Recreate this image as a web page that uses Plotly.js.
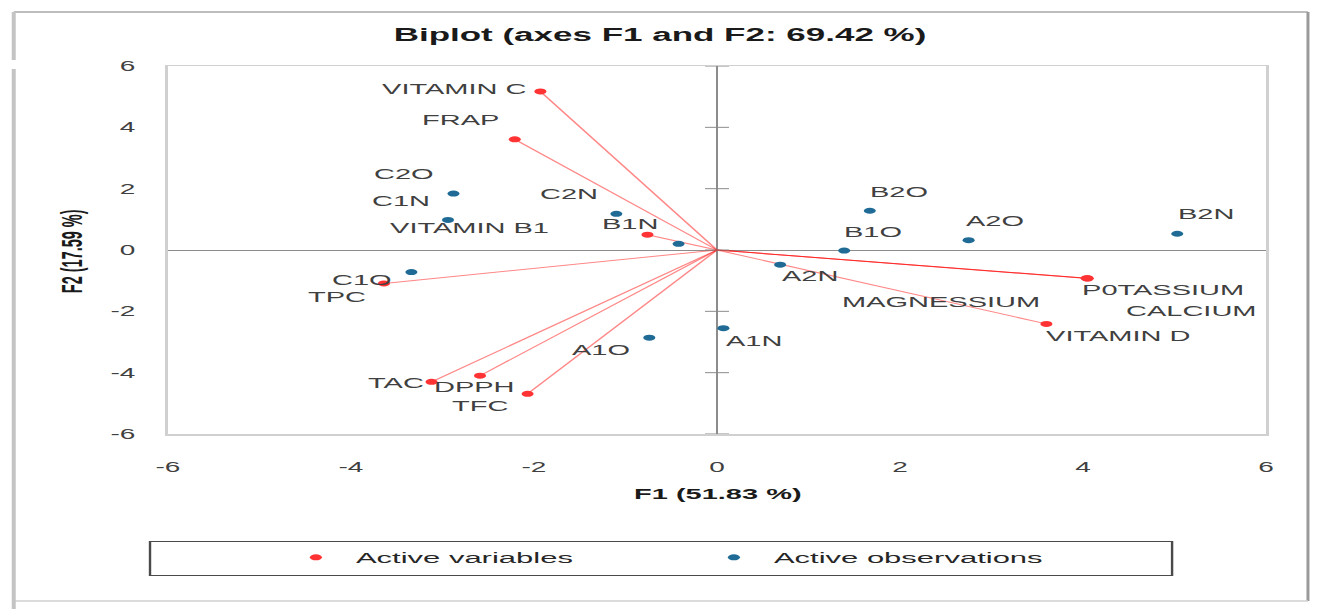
<!DOCTYPE html>
<html>
<head>
<meta charset="utf-8">
<script src="https://cdn.plot.ly/plotly-3.0.1.min.js"></script>
<style>
  html, body { margin: 0; padding: 0; background: #ffffff; overflow: hidden; }
  #chart { width: 660px; height: 609px; transform: scaleX(2); transform-origin: 0 0; }
</style>
</head>
<body>
<div id="chart"></div>
<script>
// ---------- DATA ----------
const variableNames = ['VITAMIN C', 'FRAP', 'VITAMIN B1', 'TPC', 'TAC', 'DPPH', 'TFC', 'P0TASSIUM', 'CALCIUM', 'MAGNESSIUM', 'VITAMIN D'];
const variableF1 = [-1.93, -2.21, -0.76, -3.64, -3.12, -2.59, -2.07, 4.05, 4.05, 4.04, 3.60];
const variableF2 = [5.17, 3.61, 0.50, -1.09, -4.30, -4.10, -4.69, -0.92, -0.93, -0.92, -2.41];

const observationNames = ['C2O', 'C1N', 'C2N', 'B1N', 'C1O', 'A1O', 'A1N', 'A2N', 'B1O', 'B2O', 'A2O', 'B2N'];
const observationF1 = [-2.88, -2.94, -1.10, -0.42, -3.34, -0.74, 0.07, 0.69, 1.39, 1.67, 2.75, 5.03];
const observationF2 = [1.84, 0.98, 1.18, 0.20, -0.72, -2.86, -2.55, -0.48, -0.02, 1.28, 0.32, 0.53];

const tickValues = [-6, -4, -2, 0, 2, 4, 6];
const tickLabels = ['-6', '-4', '-2', '0', '2', '4', '6'];

const chartTitle = 'Biplot (axes F1 and F2: 69.42 %)';
const xTitle = 'F1 (51.83 %)';
const yTitle = 'F2 (17.59 %)';
const legendNames = ['Active variables', 'Active observations'];

// ---------- LABEL PLACEMENT (pixel offsets, not data) ----------
const variableLabelDx = [-43, -27, -88.5, -23, -17.5, -3.5, -24, 37.3, 51.5, -72.5, 36.2];
const variableLabelDy = [-2.5, -19, -7, 14, 1, 11.6, 12, 11.7, 32.4, 23.4, 11.7];
const observationLabelDx = [-24.8, -23.5, -24, -24, -24.4, -24.5, 15.4, 15, 14.3, 14.5, 13, 14.3];
const observationLabelDy = [-19.7, -19.3, -19.7, -20, 8, 12.3, 12.7, 11, -19, -19, -19.6, -19.4];

// ---------- LAYOUT GEOMETRY ----------
const W = 660, H = 609;
const L = 83.5, R = 633, T = 66, B = 434;
const px2x = p => (p - L) / (R - L);
const py2y = p => (B - p) / (B - T);

const FONT = 'Liberation Sans, Arial, sans-serif';
const RED = '#ff3333';
const BLUE = '#1f6b96';

const traces = [];
variableNames.forEach((n, i) => {
  traces.push({
    x: [0, variableF1[i]], y: [0, variableF2[i]],
    mode: 'lines', type: 'scatter',
    line: { color: 'rgba(255,0,0,0.47)', width: 1 },
    showlegend: false, hoverinfo: 'skip'
  });
});
traces.push({
  x: variableF1, y: variableF2, text: variableNames,
  mode: 'markers', type: 'scatter', name: legendNames[0],
  marker: { color: RED, size: 6 }
});
traces.push({
  x: observationF1, y: observationF2, text: observationNames,
  mode: 'markers', type: 'scatter', name: legendNames[1],
  marker: { color: BLUE, size: 6 }
});

const annotations = [];
const labelFont = { family: FONT, size: 14.5, color: '#404040' };
variableNames.forEach((n, i) => {
  annotations.push({
    x: variableF1[i], y: variableF2[i], xref: 'x', yref: 'y', text: n,
    showarrow: false, xanchor: 'center', yanchor: 'middle',
    xshift: variableLabelDx[i], yshift: -variableLabelDy[i], font: labelFont
  });
});
observationNames.forEach((n, i) => {
  annotations.push({
    x: observationF1[i], y: observationF2[i], xref: 'x', yref: 'y', text: n,
    showarrow: false, xanchor: 'center', yanchor: 'middle',
    xshift: observationLabelDx[i], yshift: -observationLabelDy[i], font: labelFont
  });
});
annotations.push({
  x: px2x(359), y: py2y(494), xref: 'paper', yref: 'paper', text: xTitle,
  showarrow: false, xanchor: 'center', yanchor: 'middle',
  font: { family: FONT, size: 14.5, color: '#1a1a1a', weight: 'bold' }
});
annotations.push({
  x: px2x(35), y: py2y(251.7), xref: 'paper', yref: 'paper', text: yTitle,
  showarrow: false, xanchor: 'center', yanchor: 'middle', textangle: -90,
  font: { family: FONT, size: 14.5, color: '#1a1a1a', weight: 'bold' }
});

const shapes = [];
// cross tick marks on the vertical axis line at x = 0
tickValues.forEach(v => {
  shapes.push({
    type: 'line', xref: 'x', xsizemode: 'pixel', xanchor: 0, x0: -6, x1: 6,
    yref: 'y', y0: v, y1: v, line: { color: '#8c8c8c', width: 1 }
  });
});
// legend box
shapes.push({
  type: 'rect', xref: 'paper', yref: 'paper',
  x0: px2x(74.5), x1: px2x(586), y0: py2y(541.5), y1: py2y(575.5),
  line: { color: '#4a4a4a', width: 1.2 }, fillcolor: 'rgba(0,0,0,0)'
});
// outer frame
const frameLine = (x0, y0, x1, y1, color, width) => ({
  type: 'line', xref: 'paper', yref: 'paper',
  x0: px2x(x0), x1: px2x(x1), y0: py2y(y0), y1: py2y(y1),
  line: { color: color, width: width }
});
shapes.push(frameLine(6.3, 12, 654, 12, '#a8a8a8', 1.5));
shapes.push(frameLine(654, 12, 654, 601, '#9a9a9a', 1.5));
shapes.push(frameLine(6.3, 601, 654, 601, '#d0d0d0', 1.5));
shapes.push(frameLine(6.3, 12, 6.3, 60, '#c4c4c4', 2));
shapes.push(frameLine(6.3, 69, 6.3, 609, '#c4c4c4', 2));

const axisCommon = {
  range: [-6, 6], tickmode: 'array', tickvals: tickValues, ticktext: tickLabels,
  showgrid: false, zeroline: true, zerolinecolor: '#8c8c8c', zerolinewidth: 1,
  showline: true, mirror: true, linecolor: '#d0d0d0', linewidth: 1.5,
  ticks: '', tickfont: { family: FONT, size: 14, color: '#404040' },
  fixedrange: true
};

const layout = {
  width: W, height: H,
  margin: { l: L, r: W - R, t: T, b: H - B, pad: 0 },
  paper_bgcolor: '#ffffff', plot_bgcolor: '#ffffff',
  font: { family: FONT, color: '#404040' },
  title: {
    text: chartTitle, x: 0.5, xref: 'container', xanchor: 'center',
    y: 1 - 35 / H, yref: 'container', yanchor: 'middle',
    font: { family: FONT, size: 17.5, color: '#1a1a1a', weight: 'bold' }
  },
  xaxis: Object.assign({}, axisCommon, { ticklabelstandoff: 20 }),
  yaxis: Object.assign({}, axisCommon, { ticklabelstandoff: 12 }),
  showlegend: true,
  legend: {
    orientation: 'h', x: px2x(137.5), xanchor: 'left', y: py2y(557.7), yanchor: 'middle',
    bgcolor: 'rgba(0,0,0,0)', borderwidth: 0,
    entrywidth: 164, entrywidthmode: 'pixels',
    font: { family: FONT, size: 15.5, color: '#262626' }
  },
  annotations: annotations,
  shapes: shapes,
  hovermode: false
};

Plotly.newPlot('chart', traces, layout, { displayModeBar: false, staticPlot: true });
</script>
</body>
</html>
